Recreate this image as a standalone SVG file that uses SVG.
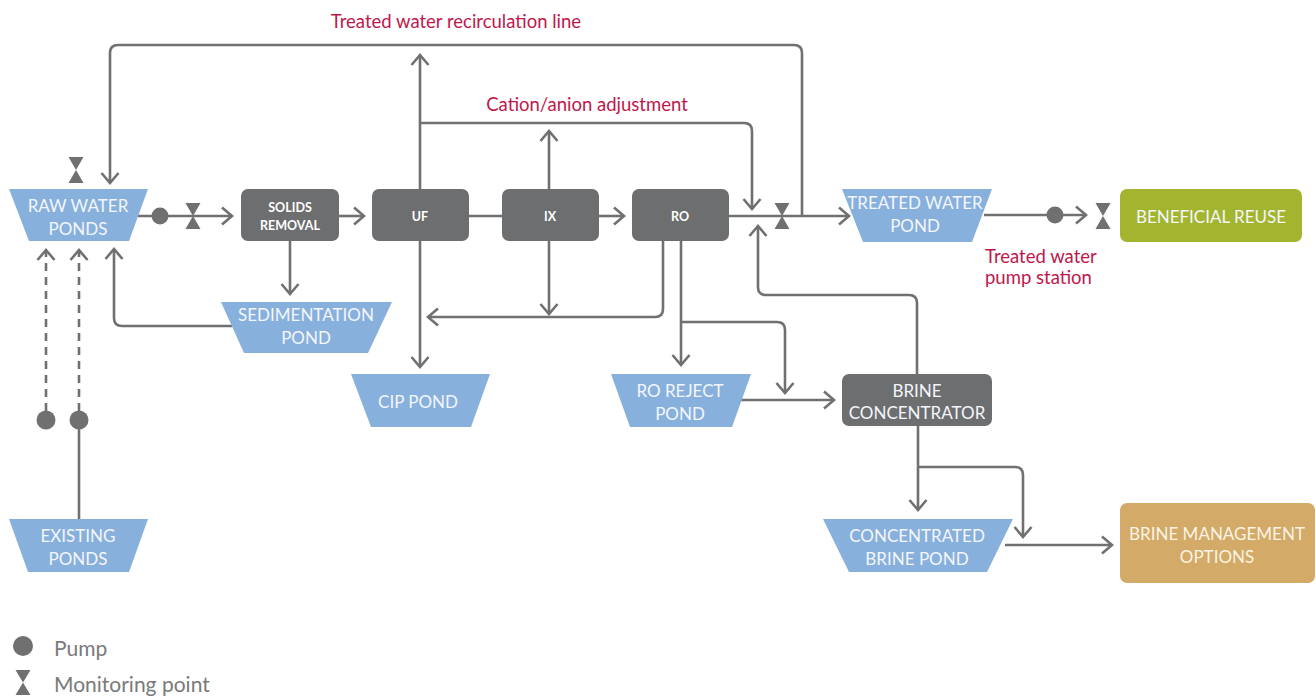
<svg xmlns="http://www.w3.org/2000/svg" width="1316" height="696" viewBox="0 0 1316 696">
<style>
.ln{fill:none;stroke:#707070;stroke-width:2.6;stroke-linejoin:round}
.arr{marker-end:url(#ah)}
.dash{stroke-dasharray:8 6}
.pond{fill:#88b0dc}
.box{fill:#6d6e70}
.t{font-family:Lato,"Liberation Sans",sans-serif;font-size:17px;font-weight:400;text-anchor:middle;dominant-baseline:central}
.wt{fill:#f3f6fb}
.bt{font-family:Lato,"Liberation Sans",sans-serif;font-size:12.5px;font-weight:bold;fill:#ffffff;text-anchor:middle;dominant-baseline:central}
.red{font-family:Lato,"Liberation Sans",sans-serif;font-size:18.5px;font-weight:400;fill:#c0174b;dominant-baseline:central}
.leg{font-family:Lato,"Liberation Sans",sans-serif;font-size:21px;font-weight:400;fill:#7a7a7a;dominant-baseline:central}
.sym{fill:#707070}
</style>
<defs>
<marker id="ah" markerUnits="userSpaceOnUse" markerWidth="24" markerHeight="24" refX="0" refY="0" orient="auto" overflow="visible">
<path d="M-10,-8.5 L0,0 L-10,8.5" fill="none" stroke="#707070" stroke-width="2.6" stroke-linejoin="miter"/>
</marker>
</defs>

<g id="connectors">
<path class="ln arr" d="M802,216 V53 Q802,45 794,45 H118 Q110,45 110,53 V183"/>
<path class="ln arr" d="M420,189 V55"/>
<path class="ln arr" d="M420,123 H744 Q752,123 752,131 V209"/>
<path class="ln arr" d="M549,189 V131"/>
<path class="ln arr" d="M549,241 V314"/>
<path class="ln arr" d="M663,241 V309 Q663,317 655,317 H428"/>
<path class="ln arr" d="M420,241 V367"/>
<path class="ln arr" d="M681,241 V365"/>
<path class="ln arr" d="M681,322 H777 Q785,322 785,330 V393"/>
<path class="ln arr" d="M741,400 H834"/>
<path class="ln arr" d="M917,374 V303 Q917,295 909,295 H766 Q758,295 758,287 V226"/>
<path class="ln arr" d="M729,216 H849"/>
<path class="ln arr" d="M984,215 H1086"/>
<path class="ln arr" d="M918,426 V510"/>
<path class="ln arr" d="M918,467 H1015 Q1023,467 1023,475 V537"/>
<path class="ln arr" d="M1005,545 H1112"/>
<path class="ln arr" d="M138,216 H232"/>
<path class="ln arr" d="M339,216 H364"/>
<path class="ln" d="M469,216 H502"/>
<path class="ln arr" d="M599,216 H624"/>
<path class="ln arr" d="M290,241 V294"/>
<path class="ln arr" d="M232,326 H122 Q114,326 114,318 V249"/>
<path class="ln dash arr" d="M46,411 V250"/>
<path class="ln dash arr" d="M79,411 V250"/>
<path class="ln" d="M79,420 V519"/>
</g>

<g id="pumps">
<circle class="sym" cx="160" cy="216" r="8.5"/>
<circle class="sym" cx="1055" cy="215" r="8.5"/>
<circle class="sym" cx="46" cy="420" r="9.5"/>
<circle class="sym" cx="79" cy="420" r="9.5"/>
</g>
<g id="monitors">
<path class="sym" d="M68.5,157 H83.5 L76,170 Z M76,170 L83.5,183 H68.5 Z"/>
<path class="sym" d="M185.5,203 H200.5 L193,216 Z M193,216 L200.5,229 H185.5 Z"/>
<path class="sym" d="M774.5,203 H789.5 L782,216 Z M782,216 L789.5,229 H774.5 Z"/>
<path class="sym" d="M1095.5,203 H1110.5 L1103,216 Z M1103,216 L1110.5,229 H1095.5 Z"/>
</g>

<g id="raw-water-ponds">
<polygon class="pond" points="9,189 148,189 129,241 29,241"/>
<text class="t wt" x="78" y="205">RAW WATER</text>
<text class="t wt" x="78" y="228">PONDS</text>
</g>
<g id="solids-removal">
<rect class="box" x="241" y="189" width="98" height="52" rx="7"/>
<text class="bt" x="290" y="207">SOLIDS</text>
<text class="bt" x="290" y="225">REMOVAL</text>
</g>
<g id="uf">
<rect class="box" x="372" y="189" width="97" height="52" rx="7"/>
<text class="bt" x="420" y="216">UF</text>
</g>
<g id="ix">
<rect class="box" x="502" y="189" width="97" height="52" rx="7"/>
<text class="bt" x="550" y="216">IX</text>
</g>
<g id="ro">
<rect class="box" x="632" y="189" width="97" height="52" rx="7"/>
<text class="bt" x="680" y="216">RO</text>
</g>
<g id="sedimentation-pond">
<polygon class="pond" points="221,302 392,302 368,353 244,353"/>
<text class="t wt" x="306" y="314">SEDIMENTATION</text>
<text class="t wt" x="306" y="337">POND</text>
</g>
<g id="cip-pond">
<polygon class="pond" points="351,374 490,374 471,427 371,427"/>
<text class="t wt" x="418" y="401">CIP POND</text>
</g>
<g id="ro-reject-pond">
<polygon class="pond" points="611,374 751,374 732,427 630,427"/>
<text class="t wt" x="680" y="390">RO REJECT</text>
<text class="t wt" x="680" y="413">POND</text>
</g>
<g id="brine-concentrator">
<rect class="box" x="842" y="374" width="150" height="52" rx="7"/>
<text class="t wt" x="917" y="390">BRINE</text>
<text class="t wt" x="917" y="412">CONCENTRATOR</text>
</g>
<g id="treated-water-pond">
<polygon class="pond" points="842,189 992,189 972,242 863,242"/>
<text class="t wt" x="915" y="202">TREATED WATER</text>
<text class="t wt" x="915" y="225">POND</text>
</g>
<g id="beneficial-reuse">
<rect x="1120" y="189" width="182" height="53" rx="7" fill="#a3b52f"/>
<text class="t wt" x="1211" y="216">BENEFICIAL REUSE</text>
</g>
<g id="concentrated-brine-pond">
<polygon class="pond" points="823,519 1013,519 987,572 849,572"/>
<text class="t wt" x="917" y="535">CONCENTRATED</text>
<text class="t wt" x="917" y="558">BRINE POND</text>
</g>
<g id="brine-management-options">
<rect x="1120" y="503" width="195" height="80" rx="7" fill="#d3aa67"/>
<text class="t" fill="#fbf3e4" x="1217" y="533">BRINE MANAGEMENT</text>
<text class="t" fill="#fbf3e4" x="1217" y="556">OPTIONS</text>
</g>
<g id="existing-ponds">
<polygon class="pond" points="9,519 148,519 129,572 28,572"/>
<text class="t wt" x="78" y="535">EXISTING</text>
<text class="t wt" x="78" y="558">PONDS</text>
</g>

<g id="labels">
<text class="red" x="456" y="21" text-anchor="middle">Treated water recirculation line</text>
<text class="red" x="587" y="104" text-anchor="middle">Cation/anion adjustment</text>
<text class="red" x="985" y="256">Treated water</text>
<text class="red" x="985" y="277">pump station</text>
</g>

<g id="legend">
<circle class="sym" cx="23" cy="646" r="10"/>
<text class="leg" x="54" y="647">Pump</text>
<path class="sym" d="M15.5,670 H30.5 L23,682.5 Z M23,682.5 L30.5,695 H15.5 Z"/>
<text class="leg" x="54" y="683">Monitoring point</text>
</g>
</svg>
